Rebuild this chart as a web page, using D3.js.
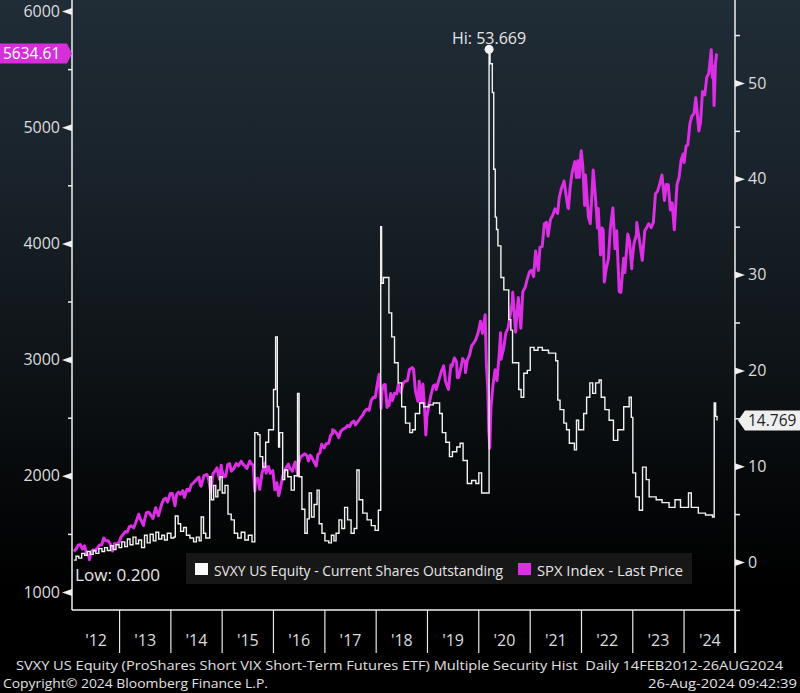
<!DOCTYPE html>
<html><head><meta charset="utf-8">
<script src="https://cdn.jsdelivr.net/npm/d3@7"></script>
<style>
html,body{margin:0;padding:0;background:#000;}
svg{display:block;font-family:"Open Sans",sans-serif;}
text{white-space:pre;}
</style></head><body><svg id="c" width="800" height="693"></svg>
<script>
// ---------------- DATA ----------------
const svxySeries = [
["2012-02-14",0.2],["2012-03-01",0.6],["2012-03-20",0.4],["2012-04-10",0.9],["2012-05-01",0.7],["2012-05-20",1.1],
["2012-06-10",0.8],["2012-07-01",1.2],["2012-07-20",0.9],["2012-08-10",1.4],["2012-09-01",1.1],["2012-09-20",1.5],
["2012-10-10",1.2],["2012-11-01",1.7],["2012-11-20",1.3],["2012-12-10",1.8],["2013-01-01",1.5],["2013-01-20",2.1],
["2013-02-10",1.6],["2013-03-01",2.4],["2013-03-20",1.8],["2013-04-10",2.6],["2013-05-01",1.9],["2013-05-20",2.3],
["2013-06-10",1.5],["2013-07-01",2.8],["2013-07-20",2.0],["2013-08-10",2.9],["2013-09-01",2.2],["2013-09-20",3.1],
["2013-10-10",2.4],["2013-11-01",2.8],["2013-11-20",2.3],["2013-12-10",3.0],["2014-01-05",2.5],["2014-01-25",2.6],
["2014-02-05",4.8],["2014-02-25",4.0],["2014-03-15",3.2],["2014-04-05",3.6],["2014-04-25",2.8],["2014-05-20",2.5],
["2014-06-15",2.1],["2014-07-05",2.6],["2014-07-25",2.2],["2014-08-08",4.7],["2014-08-25",3.0],["2014-09-10",2.5],
["2014-10-08",8.9],["2014-10-20",6.5],["2014-11-05",8.0],["2014-11-20",6.8],["2014-12-05",7.5],["2014-12-20",8.9],
["2015-01-05",7.2],["2015-01-25",8.0],["2015-02-15",5.0],["2015-03-10",4.4],["2015-04-01",3.0],["2015-04-25",2.5],
["2015-05-20",3.1],["2015-06-15",2.3],["2015-07-10",2.8],["2015-08-05",2.1],["2015-08-25",13.5],["2015-09-15",13.3],
["2015-10-01",11.0],["2015-10-20",9.9],["2015-11-10",12.5],["2015-12-01",13.8],["2016-01-05",18.0],["2016-01-20",23.5],
["2016-02-01",16.2],["2016-02-10",12.0],["2016-02-17",13.5],["2016-03-10",8.6],["2016-03-25",9.6],["2016-04-15",8.9],
["2016-05-10",7.5],["2016-06-01",9.0],["2016-06-24",17.6],["2016-07-05",8.9],["2016-07-25",5.5],["2016-08-15",3.0],
["2016-09-01",4.5],["2016-09-15",7.2],["2016-10-01",4.7],["2016-10-20",6.0],["2016-11-10",7.5],["2016-11-25",4.0],
["2016-12-15",3.0],["2017-01-05",2.2],["2017-02-01",2.0],["2017-02-20",2.8],["2017-03-10",2.2],["2017-03-25",3.0],
["2017-04-15",4.4],["2017-05-05",3.5],["2017-05-25",5.7],["2017-06-15",4.4],["2017-07-10",3.0],["2017-08-01",3.5],
["2017-08-20",9.6],["2017-09-05",6.5],["2017-10-01",5.1],["2017-11-01",4.4],["2017-12-01",3.8],["2017-12-28",3.3],
["2018-01-20",5.4],["2018-02-06",35.0],["2018-02-12",29.1],["2018-02-25",29.7],["2018-03-15",29.7],["2018-04-05",26.0],
["2018-04-25",23.5],["2018-05-15",20.8],["2018-06-10",18.7],["2018-07-05",16.2],["2018-08-01",14.5],["2018-09-01",13.5],
["2018-09-20",13.8],["2018-10-10",15.5],["2018-11-10",16.6],["2018-12-10",16.2],["2019-01-15",16.4],["2019-02-15",16.6],
["2019-03-10",16.6],["2019-04-01",15.5],["2019-04-20",13.5],["2019-05-15",12.5],["2019-06-10",11.0],["2019-07-01",11.5],
["2019-08-01",12.0],["2019-08-25",12.4],["2019-09-15",10.6],["2019-10-15",8.2],["2019-11-15",8.5],["2019-12-15",8.2],
["2020-01-05",9.3],["2020-01-25",7.2],["2020-02-20",7.2],["2020-03-18",53.669],["2020-03-25",52.0],["2020-04-10",49.0],
["2020-04-20",41.0],["2020-05-01",36.0],["2020-05-10",34.7],["2020-05-20",33.0],["2020-06-10",29.7],["2020-07-01",28.4],
["2020-08-05",25.3],["2020-08-20",24.2],["2020-09-01",20.8],["2020-10-15",18.0],["2020-11-01",17.2],["2020-11-20",19.7],
["2020-12-15",20.0],["2021-01-05",22.4],["2021-02-01",22.1],["2021-03-01",22.4],["2021-04-01",22.1],["2021-05-15",21.8],
["2021-07-05",21.0],["2021-07-20",16.9],["2021-08-05",15.9],["2021-09-01",14.5],["2021-09-20",13.8],["2021-10-10",12.4],
["2021-11-15",11.7],["2021-11-30",14.8],["2021-12-15",13.8],["2022-01-20",15.5],["2022-02-10",17.2],["2022-03-05",18.7],
["2022-03-25",17.6],["2022-04-15",18.7],["2022-05-10",19.0],["2022-05-25",17.2],["2022-06-20",15.9],["2022-07-20",14.8],
["2022-08-20",12.7],["2022-09-20",13.8],["2022-11-01",16.2],["2022-12-10",17.2],["2022-12-25",15.1],["2023-01-05",9.3],
["2023-01-25",6.8],["2023-02-20",5.4],["2023-03-15",9.9],["2023-04-10",8.6],["2023-05-01",6.8],["2023-06-20",6.5],
["2023-08-01",6.2],["2023-09-20",5.7],["2023-11-01",6.5],["2023-12-10",5.7],["2024-02-05",7.2],["2024-02-25",5.7],
["2024-04-15",5.1],["2024-06-05",4.9],["2024-07-25",4.7],["2024-08-06",16.6],["2024-08-16",15.2],["2024-08-26",14.769]
];
const spxSeries = [
["2012-02-14",1350],["2012-02-29",1366],["2012-03-15",1402],["2012-03-30",1408],["2012-04-16",1370],["2012-04-30",1398],
["2012-05-15",1330],["2012-05-31",1310],["2012-06-04",1278],["2012-06-15",1342],["2012-06-29",1362],["2012-07-13",1356],
["2012-07-31",1379],["2012-08-15",1405],["2012-08-31",1406],["2012-09-14",1465],["2012-09-28",1441],["2012-10-15",1440],
["2012-10-31",1412],["2012-11-15",1353],["2012-11-30",1416],["2012-12-14",1413],["2012-12-31",1426],
["2013-01-15",1472],["2013-01-31",1498],["2013-02-15",1520],["2013-02-28",1515],["2013-03-15",1560],["2013-03-28",1569],
["2013-04-15",1552],["2013-04-30",1598],["2013-05-21",1669],["2013-05-31",1631],["2013-06-24",1573],["2013-06-28",1606],
["2013-07-15",1682],["2013-07-31",1686],["2013-08-15",1661],["2013-08-30",1633],["2013-09-18",1725],["2013-09-30",1682],
["2013-10-08",1656],["2013-10-31",1757],["2013-11-15",1798],["2013-11-29",1806],["2013-12-13",1775],["2013-12-31",1848],
["2014-01-15",1848],["2014-02-03",1742],["2014-02-14",1838],["2014-02-28",1859],["2014-03-14",1841],["2014-03-31",1872],
["2014-04-11",1815],["2014-04-30",1884],["2014-05-15",1870],["2014-05-30",1924],["2014-06-13",1937],["2014-06-30",1960],
["2014-07-24",1988],["2014-07-31",1931],["2014-08-07",1910],["2014-08-29",2003],["2014-09-18",2011],["2014-09-30",1972],
["2014-10-15",1862],["2014-10-31",2018],["2014-11-14",2039],["2014-11-28",2068],["2014-12-16",1972],["2014-12-29",2091],
["2014-12-31",2059],
["2015-01-15",1992],["2015-01-30",1995],["2015-02-13",2097],["2015-02-27",2105],["2015-03-11",2040],["2015-03-31",2068],
["2015-04-15",2106],["2015-04-30",2086],["2015-05-20",2126],["2015-05-29",2107],["2015-06-15",2085],["2015-06-30",2063],
["2015-07-20",2128],["2015-07-31",2104],["2015-08-14",2092],["2015-08-25",1868],["2015-08-31",1972],["2015-09-15",1979],
["2015-09-29",1884],["2015-10-15",2023],["2015-10-30",2079],["2015-11-03",2109],["2015-11-13",2023],["2015-11-30",2080],
["2015-12-14",2022],["2015-12-31",2044],
["2016-01-15",1880],["2016-01-29",1940],["2016-02-11",1829],["2016-02-29",1932],["2016-03-15",2016],["2016-03-31",2060],
["2016-04-20",2102],["2016-04-29",2065],["2016-05-19",2040],["2016-05-31",2097],["2016-06-08",2119],["2016-06-27",2001],
["2016-06-30",2099],["2016-07-15",2162],["2016-07-29",2174],["2016-08-15",2190],["2016-08-31",2171],["2016-09-09",2128],
["2016-09-22",2177],["2016-09-30",2168],["2016-10-14",2133],["2016-11-04",2085],["2016-11-15",2180],["2016-11-30",2199],
["2016-12-13",2272],["2016-12-30",2239],
["2017-01-13",2275],["2017-01-31",2279],["2017-02-15",2350],["2017-02-28",2364],["2017-03-01",2396],["2017-03-15",2385],
["2017-03-31",2363],["2017-04-13",2329],["2017-04-28",2384],["2017-05-15",2402],["2017-05-31",2412],["2017-06-15",2432],
["2017-06-30",2423],["2017-07-14",2459],["2017-07-31",2470],["2017-08-10",2438],["2017-08-31",2472],["2017-09-15",2500],
["2017-09-29",2519],["2017-10-16",2557],["2017-10-31",2575],["2017-11-15",2565],["2017-11-30",2648],["2017-12-15",2675],
["2017-12-29",2674],
["2018-01-12",2786],["2018-01-26",2873],["2018-02-08",2581],["2018-02-15",2731],["2018-02-26",2780],["2018-03-09",2786],
["2018-03-23",2588],["2018-03-29",2641],["2018-04-06",2604],["2018-04-18",2708],["2018-04-30",2648],["2018-05-15",2711],
["2018-05-31",2705],["2018-06-12",2787],["2018-06-29",2718],["2018-07-16",2798],["2018-07-31",2816],["2018-08-15",2818],
["2018-08-29",2914],["2018-09-20",2931],["2018-09-28",2914],["2018-10-11",2728],["2018-10-29",2641],["2018-11-07",2813],
["2018-11-23",2633],["2018-12-03",2790],["2018-12-14",2600],["2018-12-24",2351],["2018-12-31",2507],
["2019-01-15",2610],["2019-01-31",2704],["2019-02-15",2775],["2019-02-28",2784],["2019-03-08",2743],["2019-03-29",2834],
["2019-04-15",2905],["2019-04-30",2946],["2019-05-13",2812],["2019-05-31",2752],["2019-06-03",2744],["2019-06-20",2954],
["2019-06-28",2942],["2019-07-15",3014],["2019-07-31",2980],["2019-08-05",2844],["2019-08-15",2848],["2019-08-30",2926],
["2019-09-12",3009],["2019-09-30",2977],["2019-10-02",2888],["2019-10-15",2996],["2019-10-31",3038],["2019-11-15",3120],
["2019-11-29",3141],["2019-12-13",3169],["2019-12-31",3231],
["2020-01-17",3330],["2020-01-31",3226],["2020-02-19",3386],["2020-02-28",2954],["2020-03-09",2747],["2020-03-16",2386],
["2020-03-23",2237],["2020-03-31",2585],["2020-04-15",2784],["2020-04-30",2912],["2020-05-13",2820],["2020-05-29",3044],
["2020-06-08",3232],["2020-06-11",3002],["2020-06-30",3100],["2020-07-15",3227],["2020-07-31",3271],["2020-08-14",3373],
["2020-08-31",3500],["2020-09-02",3580],["2020-09-23",3237],["2020-09-30",3363],["2020-10-12",3534],["2020-10-30",3270],
["2020-11-13",3585],["2020-11-30",3622],["2020-12-15",3694],["2020-12-31",3756],
["2021-01-15",3768],["2021-01-29",3714],["2021-02-12",3934],["2021-02-26",3811],["2021-03-04",3768],["2021-03-15",3968],
["2021-03-31",3973],["2021-04-15",4170],["2021-04-30",4181],["2021-05-12",4063],["2021-05-28",4204],["2021-06-15",4246],
["2021-06-30",4298],["2021-07-19",4258],["2021-07-30",4395],["2021-08-16",4479],["2021-08-31",4523],["2021-09-02",4537],
["2021-09-30",4308],["2021-10-04",4300],["2021-10-15",4471],["2021-10-29",4605],["2021-11-18",4704],["2021-11-30",4567],
["2021-12-10",4712],["2021-12-20",4568],["2021-12-31",4766],
["2022-01-03",4797],["2022-01-14",4663],["2022-01-27",4327],["2022-02-02",4589],["2022-02-23",4226],["2022-03-08",4170],
["2022-03-29",4632],["2022-04-14",4393],["2022-04-29",4132],["2022-05-04",4300],["2022-05-20",3901],["2022-05-31",4132],
["2022-06-08",4116],["2022-06-16",3667],["2022-06-30",3785],["2022-07-15",3863],["2022-07-29",4130],["2022-08-16",4305],
["2022-08-31",3955],["2022-09-12",4110],["2022-09-30",3586],["2022-10-12",3577],["2022-10-31",3872],["2022-11-09",3749],
["2022-11-30",4080],["2022-12-13",4020],["2022-12-28",3783],["2022-12-30",3840],
["2023-01-13",3999],["2023-01-31",4077],["2023-02-02",4179],["2023-02-28",3970],["2023-03-13",3855],["2023-03-31",4109],
["2023-04-14",4138],["2023-04-28",4169],["2023-05-15",4136],["2023-05-31",4180],["2023-06-15",4426],["2023-06-30",4450],
["2023-07-14",4505],["2023-07-31",4589],["2023-08-18",4370],["2023-08-31",4508],["2023-09-14",4505],["2023-09-29",4288],
["2023-10-12",4349],["2023-10-27",4117],["2023-11-15",4503],["2023-11-30",4568],["2023-12-15",4719],["2023-12-29",4770],
["2024-01-05",4697],["2024-01-19",4840],["2024-01-31",4846],["2024-02-15",5030],["2024-02-29",5096],["2024-03-15",5117],
["2024-03-28",5254],["2024-04-19",4967],["2024-04-30",5036],["2024-05-15",5308],["2024-05-31",5278],["2024-06-14",5431],
["2024-06-28",5460],["2024-07-16",5667],["2024-07-24",5427],["2024-07-31",5522],["2024-08-05",5186],["2024-08-15",5543],
["2024-08-23",5634.61]
];
const yearLabels = ["'12","'13","'14","'15","'16","'17","'18","'19","'20","'21","'22","'23","'24"];
const leftTicks = [1000,2000,3000,4000,5000,6000];
const leftMinor = [1500,2500,3500,4500,5500];
const rightTicks = [0,10,20,30,40,50];
const rightMinor = [-5,5,15,25,35,45,55];
const legendItems = ["SVXY US Equity - Current Shares Outstanding","SPX Index - Last Price"];
const lastSpx = 5634.61, lastSvxy = 14.769, hiSvxy = 53.669, lowSvxy = 0.200;
const footer1 = "SVXY US Equity (ProShares Short VIX Short-Term Futures ETF) Multiple Security Hist  Daily 14FEB2012-26AUG2024";
const footer2 = "Copyright\u00A9 2024 Bloomberg Finance L.P.";
const footer3 = "26-Aug-2024 09:42:39";

// ---------------- CHART ----------------
const parse = d3.timeParse("%Y-%m-%d");
const svxy = svxySeries.map(d => ({date: parse(d[0]), v: d[1]}));
const spx = spxSeries.map(d => ({date: parse(d[0]), v: d[1]}));
const X0 = 72, X1 = 735, YB = 610;
const x = d3.scaleTime().domain([parse("2012-02-01"), parse("2025-01-01")]).range([X0, X1]);
const yL = d3.scaleLinear().domain([845, 6095]).range([YB, 0]);
const yR = d3.scaleLinear().domain([-5.01, 58.66]).range([YB, 0]);
const MAG = "#dc2ee4", TXT = "#dcdcdc";

const svg = d3.select("#c");
const defs = svg.append("defs");
const g = defs.append("linearGradient").attr("id","bg").attr("x1",0).attr("y1",0).attr("x2",0).attr("y2",1);
[[0,"#202c36"],[0.25,"#1a232b"],[0.5,"#0f1519"],[0.72,"#050708"],[0.85,"#000"],[1,"#000"]]
  .forEach(s => g.append("stop").attr("offset", s[0]).attr("stop-color", s[1]));
defs.append("clipPath").attr("id","clip").append("rect").attr("x",X0).attr("y",0).attr("width",X1-X0).attr("height",YB);

svg.append("rect").attr("width",800).attr("height",693).attr("fill","url(#bg)");

// lines
const plot = svg.append("g").attr("clip-path","url(#clip)");
plot.append("path").datum(spx)
  .attr("d", d3.line().x(d => x(d.date)).y(d => yL(d.v)))
  .attr("fill","none").attr("stroke",MAG).attr("stroke-width",3).attr("stroke-linejoin","round");
plot.append("path").datum(svxy)
  .attr("d", d3.line().curve(d3.curveStepAfter).x(d => x(d.date)).y(d => yR(d.v)))
  .attr("fill","none").attr("stroke","#f2f2f2").attr("stroke-width",1.4);

// frame lines
svg.append("line").attr("x1",X0).attr("x2",X0).attr("y1",0).attr("y2",YB).attr("stroke","#f0f0f0").attr("stroke-width",1.5);
svg.append("line").attr("x1",X1).attr("x2",X1).attr("y1",0).attr("y2",653).attr("stroke","#f0f0f0").attr("stroke-width",1.5);
svg.append("line").attr("x1",X0).attr("x2",X1).attr("y1",YB).attr("y2",YB).attr("stroke","#f0f0f0").attr("stroke-width",1.5);

// left axis
const la = svg.append("g").attr("transform",`translate(${X0},0)`)
  .call(d3.axisLeft(yL).tickValues(leftTicks).tickSize(0).tickPadding(12).tickFormat(d3.format("d")));
la.select(".domain").remove();
la.selectAll("text").attr("fill",TXT).attr("font-size",16).attr("font-family","'Open Sans',sans-serif");
la.selectAll(".tick").append("path").attr("d","M0,-3.5L-10,0L0,3.5Z").attr("fill","#f0f0f0");
const lm = svg.append("g").attr("transform",`translate(${X0},0)`)
  .call(d3.axisLeft(yL).tickValues(leftMinor).tickSize(4).tickFormat(""));
lm.select(".domain").remove();
lm.selectAll("line").attr("stroke","#f0f0f0").attr("stroke-width",1.5);

// right axis
const ra = svg.append("g").attr("transform",`translate(${X1},0)`)
  .call(d3.axisRight(yR).tickValues(rightTicks).tickSize(0).tickPadding(13).tickFormat(d3.format("d")));
ra.select(".domain").remove();
ra.selectAll("text").attr("fill",TXT).attr("font-size",16).attr("font-family","'Open Sans',sans-serif");
ra.selectAll(".tick").append("path").attr("d","M0,-3.5L10,0L0,3.5Z").attr("fill","#f0f0f0");
const rm = svg.append("g").attr("transform",`translate(${X1},0)`)
  .call(d3.axisRight(yR).tickValues(rightMinor).tickSize(5).tickFormat(""));
rm.select(".domain").remove();
rm.selectAll("line").attr("stroke","#f0f0f0").attr("stroke-width",1.5);

// bottom axis: year boundaries
const yearStarts = d3.range(2013, 2026).map(y => new Date(y,0,1));
const ba = svg.append("g").attr("transform",`translate(0,${YB})`)
  .call(d3.axisBottom(x).tickValues(yearStarts).tickSize(43).tickFormat(""));
ba.select(".domain").remove();
ba.selectAll("line").attr("stroke","#e8e8e8").attr("stroke-width",1.2);
const labelDates = yearLabels.map((l,i) => {
  const a = Math.max(x(new Date(2012+i,0,1)), X0), b = Math.min(x(new Date(2013+i,0,1)), X1);
  return x.invert((a+b)/2);
});
const bl = svg.append("g").attr("transform",`translate(0,${YB})`)
  .call(d3.axisBottom(x).tickValues(labelDates).tickSize(0).tickPadding(25).tickFormat((d,i) => yearLabels[i]));
bl.select(".domain").remove();
bl.selectAll("text").attr("fill",TXT).attr("font-size",16).attr("font-family","'Open Sans',sans-serif");

// last value labels
const ys = yL(lastSpx);
svg.append("path").attr("d",`M0,${ys-10}L67,${ys-10}L72,${ys}L67,${ys+10}L0,${ys+10}Z`).attr("fill","#d42fd8");
svg.append("text").attr("x",3).attr("y",ys+5.5).attr("fill","#fff").attr("font-size",15.5).text(d3.format(".2f")(lastSpx));
const yv = yR(lastSvxy);
svg.append("path").attr("d",`M738,${yv}L745,${yv-10}L800,${yv-10}L800,${yv+10}L745,${yv+10}Z`).attr("fill","#efefef");
svg.append("text").attr("x",748).attr("y",yv+5.5).attr("fill","#222").attr("font-size",15.5).text(d3.format(".3f")(lastSvxy));

// hi / low
const hi = svxy.reduce((a,b) => b.v > a.v ? b : a);
svg.append("circle").attr("cx",x(hi.date)).attr("cy",yR(hi.v)+1.5).attr("r",4.5).attr("fill","#f4f4f4");
svg.append("text").attr("x",x(hi.date)).attr("y",44).attr("text-anchor","middle").attr("fill","#e6e6e6")
  .attr("font-size",16).text("Hi: " + d3.format(".3f")(hiSvxy));
svg.append("text").attr("x",75).attr("y",581).attr("fill","#e6e6e6").attr("font-size",16)
  .attr("textLength",85).attr("lengthAdjust","spacingAndGlyphs").text("Low: " + d3.format(".3f")(lowSvxy));

// legend
svg.append("rect").attr("x",186).attr("y",553).attr("width",506).attr("height",31).attr("fill","#171717");
svg.append("rect").attr("x",195).attr("y",563).attr("width",13).attr("height",12).attr("fill","#fafafa");
svg.append("rect").attr("x",518).attr("y",563).attr("width",13).attr("height",12).attr("fill",MAG);
svg.append("text").attr("x",214).attr("y",576).attr("fill","#e8e8e8").attr("font-size",15)
  .attr("textLength",289).attr("lengthAdjust","spacingAndGlyphs").text(legendItems[0]);
svg.append("text").attr("x",537).attr("y",576).attr("fill","#e8e8e8").attr("font-size",15)
  .attr("textLength",146).attr("lengthAdjust","spacingAndGlyphs").text(legendItems[1]);

// footer
svg.append("text").attr("x",16).attr("y",670).attr("fill","#e0e0e0").attr("font-size",13.5)
  .attr("textLength",767).attr("lengthAdjust","spacingAndGlyphs").text(footer1);
svg.append("text").attr("x",3).attr("y",688).attr("fill","#e0e0e0").attr("font-size",13.5)
  .attr("textLength",265).attr("lengthAdjust","spacingAndGlyphs").text(footer2);
svg.append("text").attr("x",648).attr("y",688).attr("fill","#e0e0e0").attr("font-size",13.5)
  .attr("textLength",149).attr("lengthAdjust","spacingAndGlyphs").text(footer3);
</script></body></html>
